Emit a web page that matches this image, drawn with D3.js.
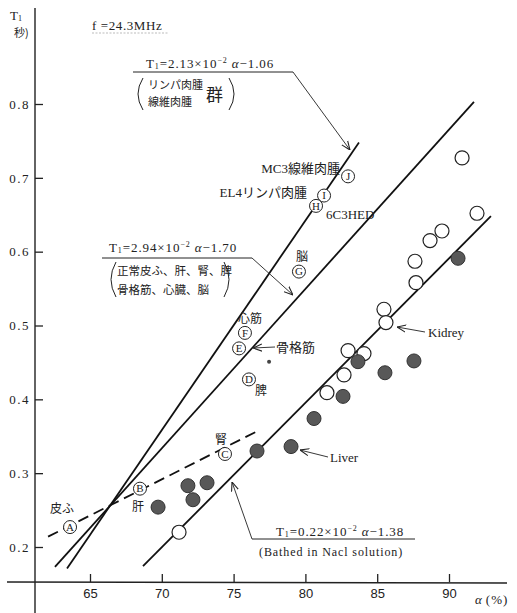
<!doctype html>
<html>
<head>
<meta charset="utf-8">
<script src="https://cdn.jsdelivr.net/npm/d3@7"></script>
<style>
  body { margin: 0; background: #fff; }
  svg { display: block; }
  .serif { font-family: "Liberation Serif", "DejaVu Serif", serif; }
  .jp { font-family: "Noto Sans CJK JP", sans-serif; }
</style>
</head>
<body>
<svg id="chart" width="517" height="613"></svg>
<script>
// axis ticks
var alphaTicks = [65, 70, 75, 80, 85, 90];
var t1Ticks = [0.2, 0.3, 0.4, 0.5, 0.6, 0.7, 0.8];

// open circles (Kidrey) and filled circles (Liver), bathed in NaCl
var openAlpha = [90.91, 91.95, 89.51, 88.68, 87.63, 87.70, 85.47, 85.61, 82.97, 84.08, 82.69, 81.50, 71.20];
var openT1    = [0.727, 0.652, 0.628, 0.615, 0.587, 0.558, 0.522, 0.504, 0.466, 0.462, 0.433, 0.409, 0.220];
var fillAlpha = [90.63, 83.66, 87.56, 85.54, 82.62, 80.60, 79.00, 76.63, 71.82, 73.15, 72.17, 69.74];
var fillT1    = [0.591, 0.451, 0.452, 0.436, 0.404, 0.374, 0.336, 0.330, 0.283, 0.287, 0.264, 0.254];

// circled-letter tissues
var letterNames  = ["A", "B", "C", "D", "E", "F", "G", "H", "I", "J"];
var letterAlpha  = [63.61, 68.48, 74.40, 76.07, 75.38, 75.79, 79.55, 80.74, 81.30, 82.97];
var letterT1     = [0.227, 0.279, 0.326, 0.427, 0.469, 0.490, 0.573, 0.662, 0.676, 0.702];
var letterTissue = ["皮ふ", "肝", "腎", "脾", "", "心筋", "脳", "", "", ""];

// single small dot
var dotAlpha = [77.47];
var dotT1 = [0.451];

// fitted lines (end points as drawn)
var sarcomaAlpha = [63.40, 83.73];
var sarcomaT1    = [0.171, 0.748];
var normalAlpha  = [62.56, 91.74];
var normalT1     = [0.173, 0.803];
var bathedAlpha  = [68.69, 92.92];
var bathedT1     = [0.174, 0.648];
var skinAlpha    = [62.08, 76.56];
var skinT1       = [0.214, 0.356];

var svg = d3.select('#chart');
svg.append('rect').attr('width', 517).attr('height', 613).attr('fill', '#fff');

var x = d3.scaleLinear().domain([65, 90]).range([90, 449]);
var y = d3.scaleLinear().domain([0.2, 0.8]).range([547, 104]);

var defs = svg.append('defs');
defs.append('marker')
  .attr('id', 'arr').attr('viewBox', '0 0 10 10')
  .attr('refX', 10).attr('refY', 5)
  .attr('markerWidth', 9).attr('markerHeight', 9)
  .attr('markerUnits', 'userSpaceOnUse')
  .attr('orient', 'auto')
  .append('path').attr('d', 'M0,1 L10,5 L0,9')
  .attr('fill', 'none').attr('stroke', '#222').attr('stroke-width', 1.2);

// axes
var xAxis = svg.append('g').attr('transform', 'translate(0,582)')
  .call(d3.axisBottom(x).tickValues(alphaTicks).tickSizeInner(-8).tickSizeOuter(0).tickPadding(7));
xAxis.select('.domain').remove();
xAxis.selectAll('line').attr('stroke', '#222').attr('stroke-width', 1.3);
xAxis.selectAll('text').attr('font-family', '"Liberation Sans", sans-serif').attr('font-size', 13).attr('fill', '#222');

var yAxis = svg.append('g').attr('transform', 'translate(35,0)')
  .call(d3.axisLeft(y).tickValues(t1Ticks).tickFormat(d3.format('.1f')).tickSizeInner(-8).tickSizeOuter(0).tickPadding(5));
yAxis.select('.domain').remove();
yAxis.selectAll('line').attr('stroke', '#222').attr('stroke-width', 1.3);
yAxis.selectAll('text').attr('class', 'serif').attr('font-size', 13).attr('letter-spacing', 1.5).attr('fill', '#222');

svg.append('line').attr('x1', 7).attr('x2', 507).attr('y1', 582).attr('y2', 583)
  .attr('stroke', '#222').attr('stroke-width', 1.4);
svg.append('line').attr('x1', 35).attr('x2', 35).attr('y1', 8).attr('y2', 613)
  .attr('stroke', '#222').attr('stroke-width', 1.4);

// axis titles
var t1Title = svg.append('text').attr('class', 'serif').attr('x', 10).attr('y', 20).attr('font-size', 13).attr('fill', '#222');
t1Title.append('tspan').text('T');
t1Title.append('tspan').attr('font-size', 8).attr('dy', 1).text('1');
svg.append('text').attr('class', 'jp').attr('x', 14).attr('y', 37).attr('font-size', 11).attr('fill', '#222').text('秒)');

var aTitle = svg.append('text').attr('class', 'serif').attr('x', 475).attr('y', 604).attr('font-size', 13).attr('fill', '#222');
aTitle.append('tspan').attr('font-style', 'italic').text('α');
aTitle.append('tspan').attr('dx', 4).attr('letter-spacing', 1).text('(%)');

svg.append('text').attr('class', 'serif').attr('x', 92).attr('y', 30).attr('font-size', 13)
  .attr('letter-spacing', 0.6).attr('fill', '#222').text('f =24.3MHz');
svg.append('line').attr('x1', 92).attr('x2', 168).attr('y1', 33).attr('y2', 33)
  .attr('stroke', '#aaa').attr('stroke-width', 0.8).attr('stroke-dasharray', '2,1.5');

// fitted lines
function seg(ax, ty, dashed) {
  svg.append('line')
    .attr('x1', x(ax[0])).attr('y1', y(ty[0]))
    .attr('x2', x(ax[1])).attr('y2', y(ty[1]))
    .attr('stroke', '#111').attr('stroke-width', 1.8)
    .attr('stroke-dasharray', dashed ? '11,6' : null);
}
seg(sarcomaAlpha, sarcomaT1);
seg(normalAlpha, normalT1);
seg(bathedAlpha, bathedT1);
seg(skinAlpha, skinT1, true);

// points
var openData = openAlpha.map(function (a, i) { return { a: a, t: openT1[i] }; });
var fillData = fillAlpha.map(function (a, i) { return { a: a, t: fillT1[i] }; });

svg.append('g').selectAll('circle').data(openData).enter().append('circle')
  .attr('cx', function (d) { return x(d.a); }).attr('cy', function (d) { return y(d.t); })
  .attr('r', 7).attr('fill', '#fff').attr('stroke', '#222').attr('stroke-width', 1.2);

svg.append('g').selectAll('circle').data(fillData).enter().append('circle')
  .attr('cx', function (d) { return x(d.a); }).attr('cy', function (d) { return y(d.t); })
  .attr('r', 7).attr('fill', '#585858').attr('stroke', '#333').attr('stroke-width', 1);

svg.append('g').selectAll('circle').data(dotAlpha).enter().append('circle')
  .attr('cx', function (d) { return x(d); }).attr('cy', function (d, i) { return y(dotT1[i]); })
  .attr('r', 2).attr('fill', '#444');

// circled letters
var tissueOffset = {
  A: [-8, -14], B: [-2, 22], C: [-4, -10], D: [12, 16], F: [5, -10], G: [3, -11]
};
var letters = letterNames.map(function (n, i) {
  return { n: n, a: letterAlpha[i], t: letterT1[i], tissue: letterTissue[i] };
});
var lg = svg.append('g').selectAll('g').data(letters).enter().append('g')
  .attr('transform', function (d) { return 'translate(' + x(d.a) + ',' + y(d.t) + ')'; });
lg.append('circle').attr('r', 6.5).attr('fill', '#fff').attr('stroke', '#222').attr('stroke-width', 1);
lg.append('text').attr('class', 'serif').attr('text-anchor', 'middle').attr('dy', 3.8)
  .attr('font-size', 11).attr('fill', '#222').text(function (d) { return d.n; });
lg.filter(function (d) { return d.tissue; }).append('text').attr('class', 'jp')
  .attr('text-anchor', 'middle').attr('font-size', 12).attr('fill', '#222')
  .attr('x', function (d) { return tissueOffset[d.n][0]; })
  .attr('y', function (d) { return tissueOffset[d.n][1]; })
  .text(function (d) { return d.tissue; });

// tumour labels
function label(txt, px, py, anchor) {
  svg.append('text').attr('x', px).attr('y', py)
    .attr('text-anchor', anchor || 'start').attr('font-size', 13).attr('fill', '#222')
    .style('font-family', '"Liberation Serif", "Noto Sans CJK JP", serif').text(txt);
}
label('MC3線維肉腫', 340, 173, 'end');
label('EL4リンパ肉腫', 307, 197, 'end');
label('6C3HED', 326, 219);

// arrows
function arrow(x1, y1, x2, y2) {
  svg.append('line').attr('x1', x1).attr('y1', y1).attr('x2', x2).attr('y2', y2)
    .attr('stroke', '#222').attr('stroke-width', 0.9).attr('marker-end', 'url(#arr)');
}
function plain(x1, y1, x2, y2) {
  svg.append('line').attr('x1', x1).attr('y1', y1).attr('x2', x2).attr('y2', y2)
    .attr('stroke', '#222').attr('stroke-width', 1);
}

arrow(425, 332, 397, 327);
label('Kidrey', 428, 337);
arrow(328, 457, 300, 450);
label('Liver', 330, 462);
arrow(275, 347, 253, 348);
svg.append('text').attr('class', 'jp').attr('x', 276).attr('y', 352).attr('font-size', 13)
  .attr('fill', '#222').text('骨格筋');

// equations
function equation(px, py, coef, icpt) {
  var t = svg.append('text').attr('class', 'serif').attr('x', px).attr('y', py)
    .attr('font-size', 13).attr('letter-spacing', 0.9).attr('fill', '#222');
  t.append('tspan').text('T');
  t.append('tspan').attr('font-size', 8).attr('dy', 1).text('1');
  t.append('tspan').attr('dy', -1).text('=' + coef + '×10');
  t.append('tspan').attr('font-size', 8).attr('dy', -5).text('−2');
  t.append('tspan').attr('dy', 5).attr('font-style', 'italic').text(' α');
  t.append('tspan').text('−' + icpt);
}
function paren(px, y1, y2, dir) {
  var w = 5 * dir;
  svg.append('path')
    .attr('d', 'M' + (px + w) + ',' + y1 + ' Q' + (px - w) + ',' + ((y1 + y2) / 2) + ' ' + (px + w) + ',' + y2)
    .attr('fill', 'none').attr('stroke', '#222').attr('stroke-width', 1);
}

// T1 = 2.13e-2 α - 1.06
equation(146, 68, '2.13', '1.06');
plain(133, 72, 293, 72);
arrow(293, 72, 350, 150);
paren(138, 78, 110, 1);
paren(234, 78, 110, -1);
svg.append('text').attr('class', 'jp').attr('x', 148).attr('y', 89).attr('font-size', 11).attr('fill', '#222').text('リンパ肉腫');
svg.append('text').attr('class', 'jp').attr('x', 148).attr('y', 106).attr('font-size', 11).attr('fill', '#222').text('線維肉腫');
svg.append('text').attr('class', 'jp').attr('x', 206).attr('y', 101).attr('font-size', 17).attr('fill', '#222').text('群');

// T1 = 2.94e-2 α - 1.70
equation(109, 252, '2.94', '1.70');
plain(102, 258, 252, 258);
arrow(252, 258, 293, 295);
paren(111, 262, 297, 1);
paren(229, 262, 297, -1);
svg.append('text').attr('class', 'jp').attr('x', 117).attr('y', 275).attr('font-size', 11.5).attr('fill', '#222').text('正常皮ふ、肝、腎、脾');
svg.append('text').attr('class', 'jp').attr('x', 117).attr('y', 294).attr('font-size', 11.5).attr('fill', '#222').text('骨格筋、心臓、脳');

// T1 = 0.22e-2 α - 1.38
equation(276, 536, '0.22', '1.38');
plain(252, 539, 415, 539);
arrow(252, 539, 232, 482);
svg.append('text').attr('class', 'serif').attr('x', 259).attr('y', 556).attr('font-size', 12)
  .attr('letter-spacing', 0.9).attr('fill', '#222').text('(Bathed in Nacl solution)');
</script>
</body>
</html>
